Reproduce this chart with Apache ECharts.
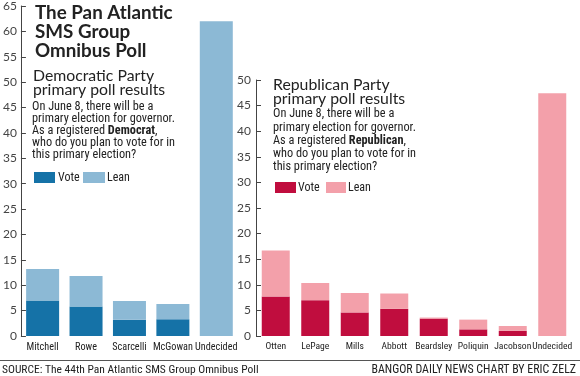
<!DOCTYPE html>
<html><head><meta charset="utf-8">
<script src="https://cdn.jsdelivr.net/npm/echarts@6/dist/echarts.min.js"></script>
<style>html,body{margin:0;padding:0;background:#fff}#c{width:580px;height:376px}</style>
</head><body><div id="c"></div>
<script>
var demCandidates = ['Mitchell','Rowe','Scarcelli','McGowan','Undecided'];
var demVote = [7.0, 5.8, 3.2, 3.3, 0];
var demLean = [6.2, 6.0, 3.7, 3.0, 62];
var repCandidates = ['Otten','LePage','Mills','Abbott','Beardsley','Poliquin','Jacobson','Undecided'];
var repVote = [7.7, 7.0, 4.6, 5.3, 3.4, 1.3, 1.0, 0];
var repLean = [9.0, 3.35, 3.8, 3.0, 0.2, 1.9, 0.95, 47.4];
var demTicks = {min:0, max:65, interval:5};
var repTicks = {min:0, max:50, interval:5};

var FONT = "'Roboto Condensed'";
var HEAD = 'Lato';
var TXT = '#222';
var C = {dv:'#1572a7', dl:'#8cb9d5', rv:'#c00d3e', rl:'#f3a0aa'};

function yAxis(idx, t, margin){
  return {type:'value', gridIndex:idx, min:t.min, max:t.max, interval:t.interval,
    axisLine:{show:true, lineStyle:{color:'#444', width:1}},
    axisTick:{show:true, inside:true, length:5, lineStyle:{color:'#444'}},
    splitLine:{show:false},
    axisLabel:{color:'#444', fontFamily:HEAD, fontSize:12, margin:margin}};
}
function xAxis(idx, cats, size){
  return {type:'category', gridIndex:idx, data:cats,
    axisLine:{show:false}, axisTick:{show:false},
    axisLabel:{color:TXT, fontFamily:FONT, fontSize:size, margin:6, interval:0}};
}
function t(x,y,text,size,weight,fam,extra){
  var st = {x:x, y:y, text:text, fill:TXT, fontFamily:fam||FONT, fontSize:size, fontWeight:weight||'normal', verticalAlign:'middle', align:'left'};
  if(extra){for(var k in extra) st[k]=extra[k];}
  return {type:'text', style:st, z:10};
}
var rich = {b:{fontWeight:'bold', fontFamily:FONT, fontSize:12.3, color:TXT}};
var graphics = [
  t(35,12.7,'The Pan Atlantic',18.8,'bold',HEAD),
  t(35,31.7,'SMS Group',18.8,'bold',HEAD),
  t(35,50.7,'Omnibus Poll',18.8,'bold',HEAD),
  t(33,76,'Democratic Party',15.8,'normal',HEAD),
  t(33,89.5,'primary poll results',15.8,'normal',HEAD),
  t(32,106.7,'On June 8, there will be a',12.3),
  t(32,118.8,'primary election for governor.',12.3),
  t(32,131,'As a registered {b|Democrat},',12.3,'normal',FONT,{rich:rich}),
  t(32,143.2,'who do you plan to vote for in',12.3),
  t(32,155.4,'this primary election?',12.3),
  {type:'rect', shape:{x:34,y:172,width:21,height:11}, style:{fill:C.dv}},
  t(58,177.5,'Vote',12),
  {type:'rect', shape:{x:83,y:172,width:22,height:11}, style:{fill:C.dl}},
  t(107,177.5,'Lean',12),

  t(273,85,'Republican Party',15.8,'normal',HEAD),
  t(273,99,'primary poll results',15.8,'normal',HEAD),
  t(273,114.3,'On June 8, there will be a',12.3),
  t(273,127.7,'primary election for governor.',12.3),
  t(273,141,'As a registered {b|Republican},',12.3,'normal',FONT,{rich:rich}),
  t(273,154.3,'who do you plan to vote for in',12.3),
  t(273,166.7,'this primary election?',12.3),
  {type:'rect', shape:{x:275,y:182,width:21,height:11}, style:{fill:C.rv}},
  t(298,187.5,'Vote',12),
  {type:'rect', shape:{x:326,y:182,width:20,height:11}, style:{fill:C.rl}},
  t(348,187.5,'Lean',12),

  {type:'line', shape:{x1:0,y1:360.5,x2:580,y2:360.5}, style:{stroke:'#555', lineWidth:1}},
  t(2,370,'SOURCE: The 44th Pan Atlantic SMS Group Omnibus Poll',11.5),
  t(576,370,'BANGOR DAILY NEWS CHART BY ERIC ZELZ',11.9,'normal',FONT,{align:'right'})
];

var chart = echarts.init(document.getElementById('c'), null, {renderer:'canvas'});
chart.setOption({
  animation:false,
  backgroundColor:'#fff',
  grid:[
    {left:18, top:5.5, width:220, bottom:40},
    {left:256, top:80, width:316, bottom:40}
  ],
  xAxis:[xAxis(0, demCandidates, 10.2), xAxis(1, repCandidates, 9.6)],
  yAxis:[yAxis(0, demTicks, 4), yAxis(1, repTicks, 5)],
  series:[
    {type:'bar', name:'Vote', stack:'d', xAxisIndex:0, yAxisIndex:0, data:demVote, barWidth:33, itemStyle:{color:C.dv}},
    {type:'bar', name:'Lean', stack:'d', xAxisIndex:0, yAxisIndex:0, data:demLean, barWidth:33, itemStyle:{color:C.dl}},
    {type:'bar', name:'Vote', stack:'r', xAxisIndex:1, yAxisIndex:1, data:repVote, barWidth:28, itemStyle:{color:C.rv}},
    {type:'bar', name:'Lean', stack:'r', xAxisIndex:1, yAxisIndex:1, data:repLean, barWidth:28, itemStyle:{color:C.rl}}
  ],
  graphic:graphics
});
</script></body></html>
